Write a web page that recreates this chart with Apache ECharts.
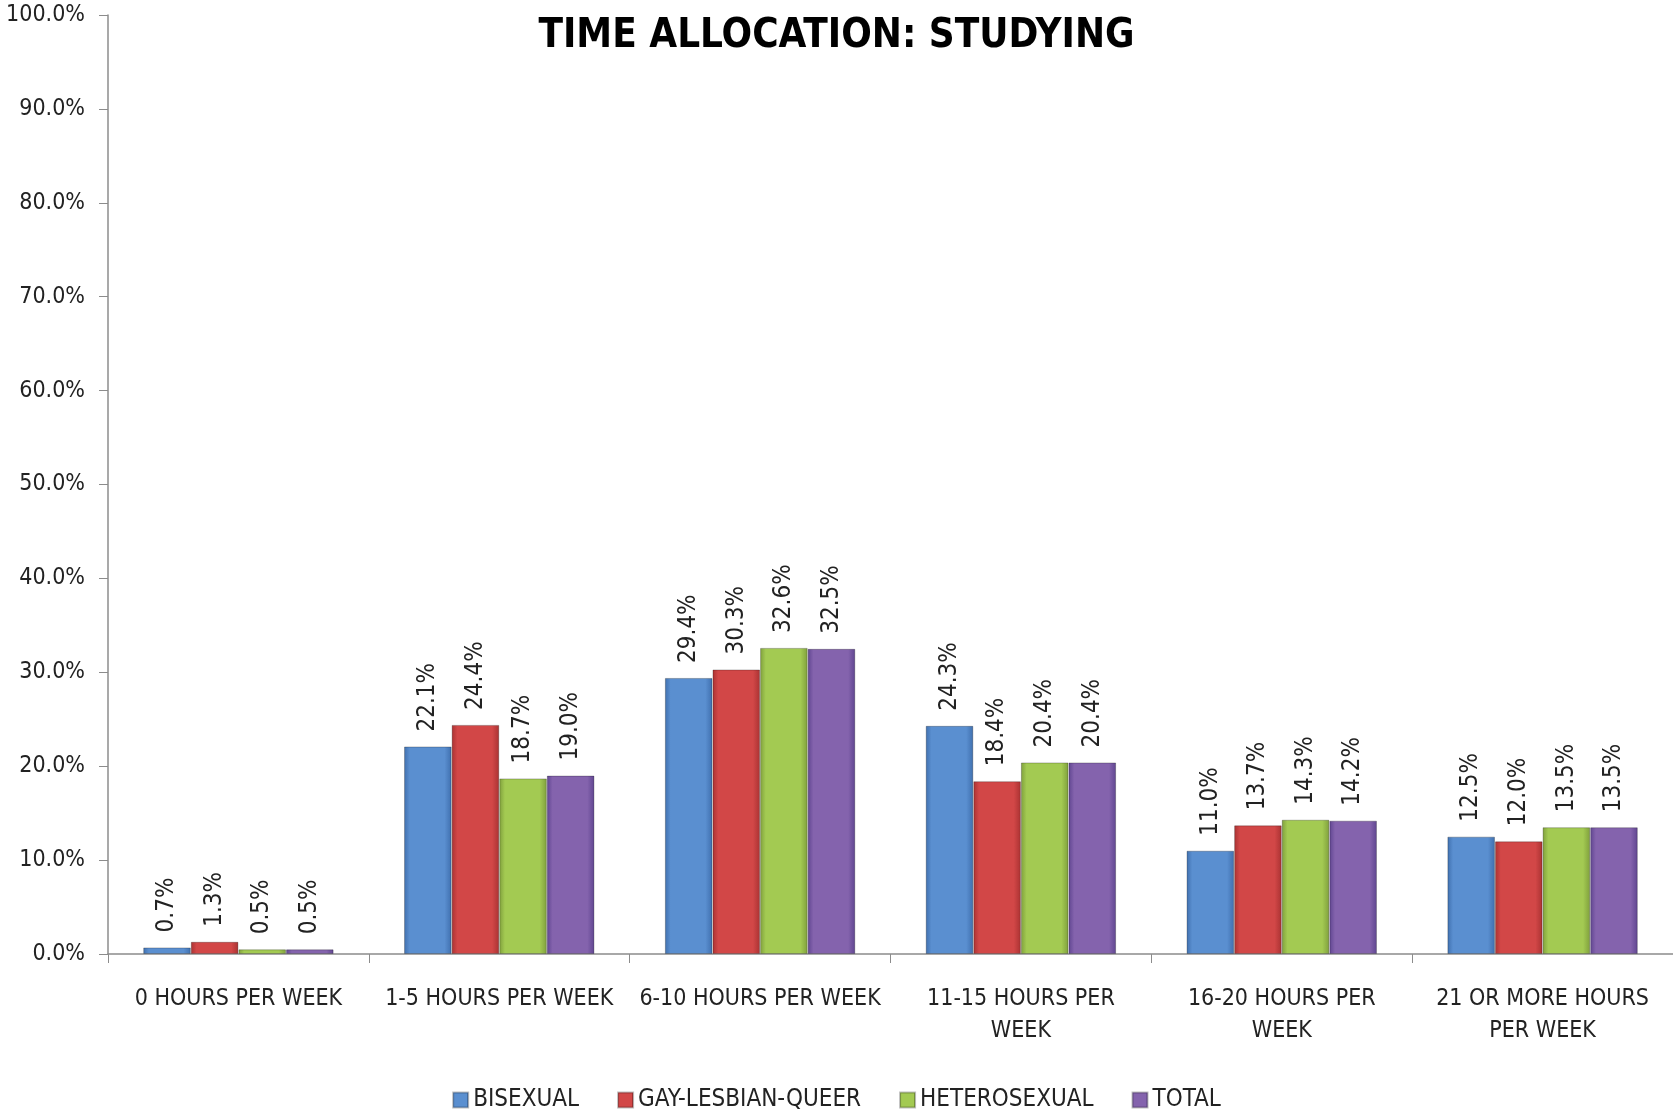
<!DOCTYPE html>
<html>
<head>
<meta charset="utf-8">
<script src="https://cdn.jsdelivr.net/npm/echarts@6/dist/echarts.min.js"></script>
<style>
  html, body { margin: 0; padding: 0; background: #fff; }
  #chart { width: 1673px; height: 1109px; }
</style>
</head>
<body>
<div id="chart"></div>
<script>
// categories and values
var categories = ['0 HOURS PER WEEK', '1-5 HOURS PER WEEK', '6-10 HOURS PER WEEK',
  '11-15 HOURS PER\nWEEK', '16-20 HOURS PER\nWEEK', '21 OR MORE HOURS\nPER WEEK'];
var seriesNames = ['BISEXUAL', 'GAY-LESBIAN-QUEER', 'HETEROSEXUAL', 'TOTAL'];
var bisexual = [0.7, 22.1, 29.4, 24.3, 11.0, 12.5];
var gayLesbianQueer = [1.3, 24.4, 30.3, 18.4, 13.7, 12.0];
var heterosexual = [0.5, 18.7, 32.6, 20.4, 14.3, 13.5];
var total = [0.5, 19.0, 32.5, 20.4, 14.2, 13.5];

var font = "'Liberation Sans Narrow', 'DejaVu Sans Condensed', 'Liberation Sans', sans-serif";

// base colours: [edge, middle]
var palette = [
  ['#3f6fae', '#5a8fd0'],
  ['#a93232', '#d24747'],
  ['#7f9f3c', '#a3ca52'],
  ['#5f4590', '#8463ad']
];

function barColor(c) {
  return new echarts.graphic.LinearGradient(0, 0, 1, 0, [
    { offset: 0, color: c[0] },
    { offset: 0.12, color: c[1] },
    { offset: 0.85, color: c[1] },
    { offset: 1, color: c[0] }
  ]);
}

function makeSeries(name, values, i) {
  return {
    name: name,
    type: 'bar',
    data: values,
    barGap: '0%',
    barCategoryGap: '27%',
    itemStyle: { color: barColor(palette[i]), borderColor: 'rgba(0,0,0,0.25)', borderWidth: 1 },
    label: {
      show: true,
      position: 'top',
      rotate: 90,
      align: 'left',
      verticalAlign: 'middle',
      distance: 15,
      fontFamily: font,
      fontSize: 24,
      color: '#222',
      formatter: function (p) { return p.value.toFixed(1) + '%'; }
    }
  };
}

var chart = echarts.init(document.getElementById('chart'));
var option = {
  backgroundColor: '#fff',
  animation: false,
  title: {
    text: 'TIME ALLOCATION: STUDYING',
    left: 'center',
    top: 12,
    textStyle: { fontFamily: font, fontSize: 40, fontWeight: 'bold', color: '#000' }
  },
  legend: {
    top: 1083,
    left: 'center',
    itemWidth: 15,
    itemHeight: 15,
    itemGap: 38,
    icon: 'rect',
    textStyle: { fontFamily: font, fontSize: 24, color: '#222' },
    data: seriesNames
  },
  grid: { left: 108, right: 0, top: 15, bottom: 155 },
  xAxis: {
    type: 'category',
    data: categories,
    axisLine: { lineStyle: { color: '#8c8c8c', width: 1.5 } },
    axisTick: { show: true, length: 9, lineStyle: { color: '#8c8c8c' } },
    axisLabel: { fontFamily: font, fontSize: 23, color: '#222', margin: 29, lineHeight: 32, interval: 0 }
  },
  yAxis: {
    type: 'value',
    min: 0,
    max: 100,
    interval: 10,
    splitLine: { show: false },
    axisLine: { show: true, lineStyle: { color: '#8c8c8c', width: 1.5 } },
    axisTick: { show: true, length: 9, lineStyle: { color: '#8c8c8c' } },
    axisLabel: { fontFamily: font, fontSize: 23, color: '#222', margin: 23,
      formatter: function (v) { return v.toFixed(1) + '%'; } }
  },
  series: [
    makeSeries(seriesNames[0], bisexual, 0),
    makeSeries(seriesNames[1], gayLesbianQueer, 1),
    makeSeries(seriesNames[2], heterosexual, 2),
    makeSeries(seriesNames[3], total, 3)
  ]
};
chart.setOption(option);
</script>
</body>
</html>
